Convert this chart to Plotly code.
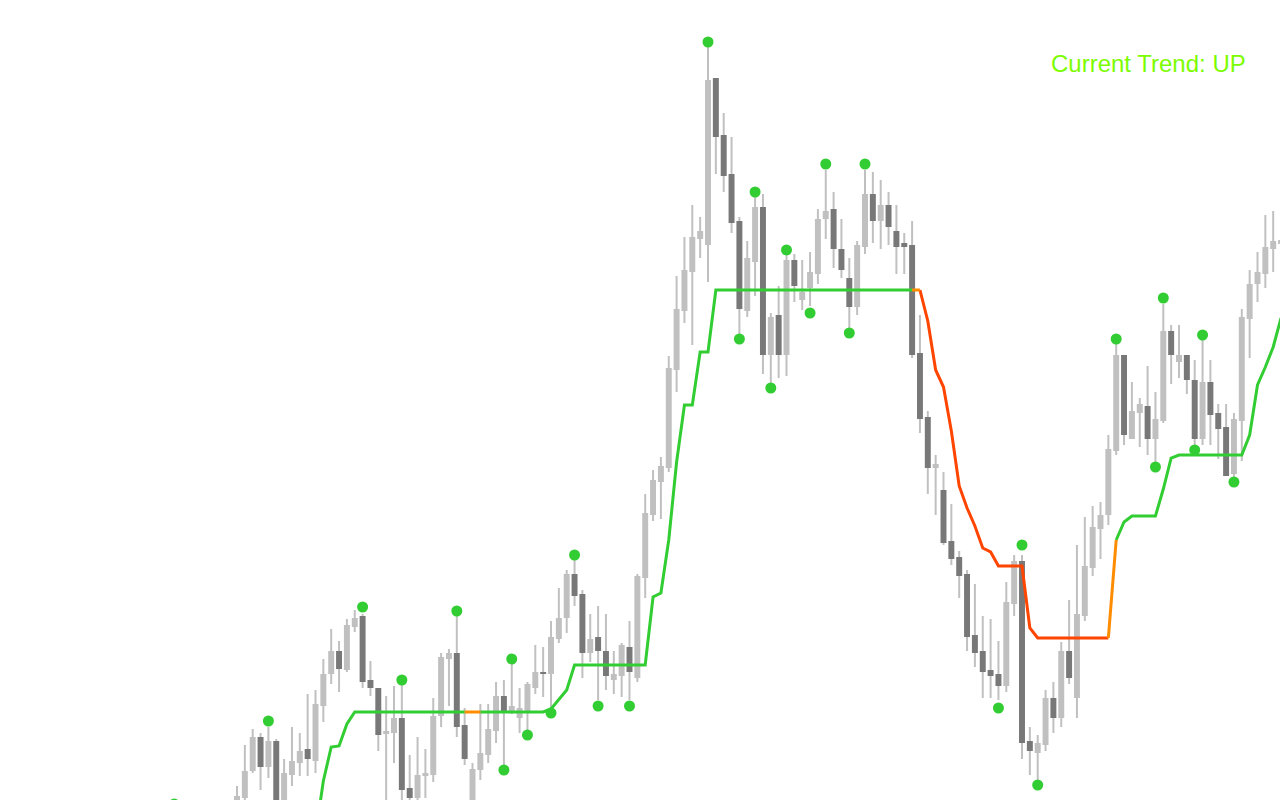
import plotly.graph_objects as go

# ---- candle data (price units; chart shows candles 0..133) ----
candle_idx = list(range(0, 134))

open_ = [-5, 2, 29, 63, 33, 59, 0, 25, 37, 51,
         39, 94, 126, 149, 130, 173, 184, 120, 112, 66,
         67, 82, 12, 2, 24, 25, 84, 141, 147, 75,
         -2, 30, 45, 69, 104, 88, 82, 88, 112, 128,
         126, 161, 182, 226, 206, 147, 163, 149, 120, 124,
         153, 122, 222, 285, 318, 332, 430, 489, 528, 561,
         555, 722, 665, 626, 579, 489, 538, 593, 445, 485,
         445, 540, 500, 512, 526, 581, 591, 551, 522, 493,
         553, 606, 579, 595, 569, 557, 555, 447, 383, 332,
         310, 259, 243, 226, 165, 149, 130, 126, 114, 196,
         239, 59, 47, 55, 102, 82, 149, 102, 184, 232,
         271, 285, 349, 445, 361, 387, 394, 361, 379, 469,
         438, 445, 420, 361, 418, 387, 373, 326, 379, 481,
         516, 526, 551, 556]

high = [14, 55, 71, 67, 73, 61, 41, 73, 67, 106,
        110, 141, 171, 159, 181, 190, 186, 139, 112, 104,
        114, 115, 45, 63, 51, 102, 147, 151, 185, 92,
        37, 96, 96, 118, 120, 137, 112, 118, 155, 153,
        179, 212, 230, 240, 210, 186, 194, 186, 149, 157,
        179, 226, 306, 330, 343, 444, 524, 563, 595, 583,
        753, 722, 687, 663, 583, 559, 604, 606, 487, 514,
        546, 546, 540, 548, 591, 630, 608, 581, 542, 559,
        630, 628, 620, 608, 595, 567, 579, 485, 389, 345,
        328, 296, 249, 230, 216, 184, 181, 159, 218, 245,
        245, 73, 65, 110, 118, 158, 200, 255, 283, 294,
        298, 365, 456, 445, 418, 402, 434, 408, 496, 475,
        475, 445, 440, 461, 440, 396, 396, 387, 491, 530,
        548, 585, 589, 572]

low = [-12, 0, 27, 10, 22, -15, -6, 14, 24, 24,
       27, 78, 116, 108, 128, 168, 112, 104, 49, 0,
       37, 0, -5, -2, 2, 18, 73, 94, 63, 35,
       -6, 20, 37, 57, 34, 86, 67, 70, 106, 103,
       92, 157, 167, 194, 122, 138, 100, 110, 106, 103,
       100, 118, 202, 279, 281, 328, 408, 477, 455, 542,
       518, 626, 608, 567, 466, 483, 504, 426, 416, 422,
       424, 498, 490, 494, 516, 561, 532, 522, 470, 485,
       546, 557, 551, 555, 526, 526, 442, 367, 306, 285,
       255, 235, 202, 149, 133, 102, 102, 100, 108, 184,
       41, 25, 20, 49, 67, 73, 116, 82, 179, 224,
       241, 275, 345, 355, 361, 353, 345, 335, 377, 416,
       422, 406, 353, 355, 355, 341, 324, 322, 339, 442,
       498, 512, 528, 550]

close = [4, 29, 63, 33, 59, -5, 27, 39, 49, 41,
         96, 126, 149, 131, 175, 182, 118, 112, 65, 69,
         82, 10, 2, 25, 27, 84, 143, 147, 73, 41,
         31, 47, 71, 104, 88, 94, 92, 116, 128, 126,
         163, 182, 226, 204, 147, 161, 149, 124, 126, 155,
         128, 224, 287, 320, 334, 432, 491, 530, 563, 569,
         720, 663, 624, 577, 491, 542, 593, 445, 483, 445,
         540, 514, 508, 528, 581, 589, 551, 530, 493, 555,
         606, 579, 595, 573, 553, 553, 445, 381, 332, 336,
         257, 241, 224, 163, 147, 128, 124, 114, 198, 239,
         57, 49, 57, 102, 82, 149, 122, 186, 234, 273,
         285, 351, 445, 365, 389, 396, 361, 381, 469, 445,
         445, 420, 361, 418, 385, 371, 324, 381, 483, 516,
         528, 553, 559, 560]

# ---- swing points (green dots) ----
dot_idx = [-8, 4, 16, 21, 28, 34, 35, 37, 40, 43, 46, 50, 60, 64, 66, 68, 70,
           73, 75, 78, 80, 97, 100, 102, 112, 117, 118, 122, 123, 127]
dot_val = [-4, 79, 193, 120, 189, 30, 141, 65, 87, 245, 94, 94, 758, 461, 608,
           412, 550, 487, 636, 467, 636, 92, 255, 15, 461, 333, 502, 350, 465, 318]

# ---- trend (trailing stop) line ----
line_idx = list(range(10, 134))
line_val = [-35, 19, 53, 54, 76,
            88, 88, 88, 88, 88, 88, 88, 88, 88, 88, 88, 88, 88, 88, 88, 88, 88, 88, 88, 88, 88, 88, 88, 88, 88,
            91, 100, 110,
            135, 135, 135, 135, 135, 135, 135, 135, 135, 135,
            203, 207, 260, 338, 395, 395, 448, 448,
            510, 510, 510, 510, 510, 510, 510, 510, 510, 510, 510, 510, 510, 510, 510, 510, 510, 510, 510, 510,
            510, 510, 510, 510, 510, 510, 510,
            479, 430, 413, 369, 314, 292, 274, 252, 248,
            234, 234, 234, 234,
            172,
            162, 162, 162, 162, 162, 162, 162, 162, 162, 162,
            260, 278,
            284, 284, 284, 284,
            311, 342,
            345, 345, 345, 345, 345, 345, 345, 345, 345,
            365, 415, 433, 453, 482]
# U = up trend, D = down trend, F = trend flip (segment ending at that point)
line_state = ("UUUUUUUUUUUUUUUUUUUU" "FF"
              "UUUUUUUUUUUUUUUUUUUUUUUUUUUUUUUUUUUUUUUUUUUUUUUUUUUUUUU" "F"
              "DDDDDDDDDDDDDDDDDDDDDDDD" "F"
              "UUUUUUUUUUUUUUUUUUUUU")

trend_label = "Current Trend: UP"

LIGHT = "#C0C0C0"
DARK = "#787878"
GREEN = "#32CD32"
RED = "#FF4500"
ORANGE = "#FF8C00"

X0 = 237.0   # pixel of candle 0
DX = 7.85    # pixels per candle

fig = go.Figure()

# wicks
fig.add_trace(go.Bar(
    x=candle_idx,
    y=[h - l for h, l in zip(high, low)],
    base=low,
    width=0.255,
    marker=dict(color=LIGHT, line=dict(width=0)),
    hoverinfo="skip",
))
# bodies
fig.add_trace(go.Bar(
    x=candle_idx,
    y=[max(abs(c - o), 1) for o, c in zip(open_, close)],
    base=[min(o, c) for o, c in zip(open_, close)],
    width=0.76,
    marker=dict(color=[LIGHT if c >= o else DARK for o, c in zip(open_, close)],
                line=dict(width=0)),
    hoverinfo="skip",
))

# trend line segments
segs = {"U": ([], []), "D": ([], []), "F": ([], [])}
prev = None
for k in range(1, len(line_idx)):
    s = line_state[k]
    xs, ys = segs[s]
    if s != prev:
        if xs:
            xs.append(None)
            ys.append(None)
        xs.append(line_idx[k - 1])
        ys.append(line_val[k - 1])
    xs.append(line_idx[k])
    ys.append(line_val[k])
    prev = s

for key, col in (("U", GREEN), ("D", RED), ("F", ORANGE)):
    xs, ys = segs[key]
    fig.add_trace(go.Scatter(x=xs, y=ys, mode="lines",
                             line=dict(color=col, width=3),
                             hoverinfo="skip", connectgaps=False))

fig.add_trace(go.Scatter(x=dot_idx, y=dot_val, mode="markers",
                         marker=dict(color=GREEN, size=11, line=dict(width=0)),
                         hoverinfo="skip"))

fig.add_annotation(text=trend_label, xref="paper", yref="paper",
                   x=1248 / 1280, y=1 - 64 / 800, xanchor="right", yanchor="middle",
                   showarrow=False,
                   font=dict(family="Liberation Sans, Arial, sans-serif", size=24, color="#7CFC00"))

fig.update_layout(
    width=1280, height=800,
    margin=dict(l=0, r=0, t=0, b=0, pad=0),
    paper_bgcolor="white", plot_bgcolor="white",
    showlegend=False, barmode="overlay", hovermode=False,
    xaxis=dict(range=[-X0 / DX, (1280 - X0) / DX], visible=False, fixedrange=True),
    yaxis=dict(range=[0, 800], visible=False, fixedrange=True),
)

fig.write_html("out.html", config={"displayModeBar": False, "staticPlot": True},
               post_script="document.body.style.margin='0';")
